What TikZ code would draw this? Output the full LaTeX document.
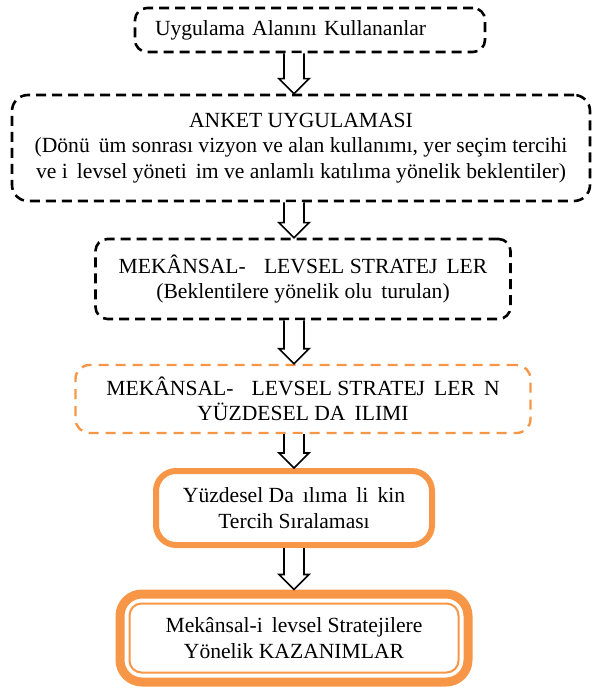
\documentclass[tikz,border=0pt]{standalone}
\usepackage{fontspec}
\setmainfont{Liberation Serif}
\usetikzlibrary{
  calc,
  positioning
}
\definecolor{kutuOrange}{RGB}{247, 150, 70}
\definecolor{kutuBlack}{RGB}{0, 0, 0}
% eksik harf boslugu
\newcommand{\gap}{\hspace{0.42em}}
% iki kutu arasinda bos ok
\newcommand{\BosOk}[2]{%
  \draw[okline] ($(#1.south -| okx)+(-10,0)$) -- ($(#2.north -| okx)+(-10,-15)$)
    -- ++(-5,0) -- (#2.north -| okx) -- ++(15,-15) -- ++(-5,0)
    -- ($(#1.south -| okx)+(10,0)$);}
\tikzset{
  % Kesikli kutular
  dashbox/.style   = {draw=kutuBlack, line width=1.3pt, dash pattern=on 5pt off 3pt,
                      rounded corners=6pt, align=center, inner sep=0pt},
  orangedash/.style= {draw=kutuOrange, line width=1.2pt, dash pattern=on 5pt off 3.5pt,
                      rounded corners=7pt, align=center, inner sep=0pt},
  % Duz turuncu kutular
  orangebox/.style = {draw=kutuOrange, line width=3pt, rounded corners=10pt,
                      align=center, inner sep=0pt},
  gainbox/.style   = {draw=kutuOrange, line width=4.5pt, rounded corners=11pt,
                      align=center, inner sep=0pt},
  % Ok
  okline/.style    = {draw=black, fill=white, line width=0.8pt, line join=miter},
  txt/.style       = {font=\fontsize{10.8}{12.8}\selectfont},
}
\begin{document}
\begin{tikzpicture}[x=0.5pt, y=-0.5pt]
  \useasboundingbox (0,0) rectangle (598,688);
  \coordinate (okx) at (294,0);
  % Kutular
  \node[dashbox, txt, minimum width=175pt, minimum height=22pt, text width=155pt,
        align=left, inner xsep=10pt] (users) at (310,30)
    {Uygulama Alanını Kullananlar};
  \node[dashbox, txt, minimum width=289pt, minimum height=53pt, rounded corners=8pt]
    (survey) at (301,148)
    {ANKET UYGULAMASI\\
     (Dönü\gap üm sonrası vizyon ve alan kullanımı, yer seçim tercihi\\
     ve i\gap levsel yöneti\gap im ve anlamlı katılıma yönelik beklentiler)};
  \node[dashbox, txt, minimum width=207.5pt, minimum height=40pt] (strat) at (303,279)
    {MEKÂNSAL-\gap\gap LEVSEL STRATEJ\gap LER\\
     (Beklentilere yönelik olu\gap turulan)};
  \node[orangedash, txt, minimum width=227.5pt, minimum height=34pt] (dist) at (303,399)
    {MEKÂNSAL-\gap\gap LEVSEL STRATEJ\gap LER\gap N\\
     YÜZDESEL DA\gap ILIMI};
  \node[orangebox, txt, minimum width=138pt, minimum height=37pt] (rank) at (294,508)
    {Yüzdesel Da\gap ılıma\gap li\gap kin\\
     Tercih Sıralaması};
  \node[gainbox, txt, minimum width=174pt, minimum height=44pt] (gain) at (294,638)
    {Mekânsal-i\gap levsel Stratejilere\\
     Yönelik KAZANIMLAR};
  \draw[kutuOrange, line width=1pt, rounded corners=6pt]
    ($(gain.north west)+(14,14)$) rectangle ($(gain.south east)+(-14,-14)$);
  % Oklar
  \BosOk{users}{survey}
  \BosOk{survey}{strat}
  \BosOk{strat}{dist}
  \BosOk{dist}{rank}
  \BosOk{rank}{gain}
\end{tikzpicture}
\end{document}
